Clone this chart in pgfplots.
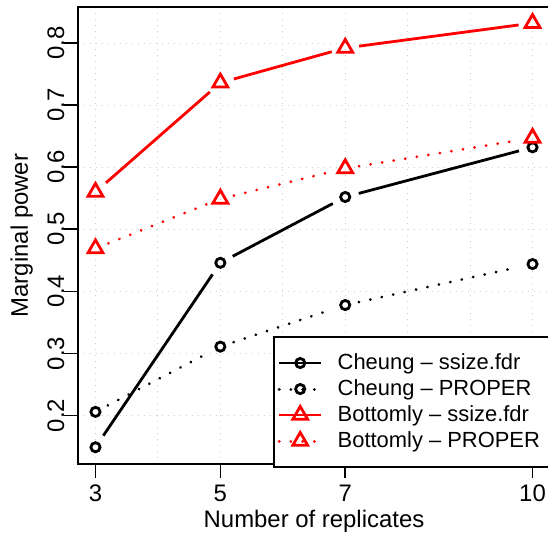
\documentclass[border=0pt]{standalone}
\usepackage{pgfplots}
\pgfplotsset{compat=1.18}
\usepackage{fontspec}
\setmainfont{Liberation Sans}
\definecolor{rred}{RGB}{255,0,0}
\definecolor{gridc}{RGB}{205,205,205}
\begin{document}
\begin{tikzpicture}
\begin{axis}[
  at={(39bp,37bp)}, anchor=south west,
  scale only axis, width=236bp, height=228.5bp,
  xmin=2.72, xmax=10.28, ymin=0.122, ymax=0.858,
  xtick={3,5,7,10}, ytick={0.2,0.3,0.4,0.5,0.6,0.7,0.8},
  minor xtick={4,6,8,9},
  tick pos=left, tick align=outside, major tick length=7bp, minor tick length=0pt,
  xmajorgrids, ymajorgrids, xminorgrids,
  grid style={gridc, dash pattern=on 0.7bp off 2.3bp, line width=0.5bp},
  minor grid style={gridc, dash pattern=on 0.7bp off 2.3bp, line width=0.5bp},
  axis line style={line width=0.8bp},
  tick style={line width=0.8bp, black},
  ticklabel style={font=\fontsize{12}{14}\selectfont},
  /pgf/number format/assume math mode=true,
  yticklabel={\pgfmathprintnumber[fixed,fixed zerofill,precision=1]{\tick}},
  yticklabel style={rotate=90, anchor=base, at={(axis description cs:-0.0805,0)}},
  every axis x label/.style={at={(axis description cs:0.5,-0.138)}, anchor=base, font=\fontsize{12}{14}\selectfont},
  every axis y label/.style={at={(axis description cs:-0.106,0.5)}, rotate=90, anchor=base, font=\fontsize{12}{14}\selectfont},
  xlabel={Number of replicates}, ylabel={Marginal power},
  legend image code/.code={\draw[mark repeat=2, mark phase=2, #1] plot coordinates {(0bp,0bp) (10.5bp,0bp) (21bp,0bp)};},
  legend cell align=left,
  legend style={at={(0.413,0.28)}, anchor=north west, draw=black, line width=0.8bp,
    fill=white, inner xsep=2bp, inner ysep=6.6bp, row sep=0pt,
    font=\fontsize{11}{13}\selectfont,
    nodes={inner sep=1bp, text height=8.5bp, text depth=2.5bp}},
]
% lines (with gaps around points, as in type="b")
\addplot[black, line width=1.4bp, shorten <=7bp, shorten >=7bp, forget plot] coordinates {(3,0.149) (5,0.446)};
\addplot[black, line width=1.4bp, shorten <=7bp, shorten >=7bp, forget plot] coordinates {(5,0.446) (7,0.552)};
\addplot[black, line width=1.4bp, shorten <=7bp, shorten >=7bp, forget plot] coordinates {(7,0.552) (10,0.632)};
\addplot[black, line width=1.5bp, line cap=round, dash pattern=on 0.01bp off 5.84bp, shorten <=7bp, shorten >=7bp, forget plot] coordinates {(3,0.206) (5,0.311)};
\addplot[black, line width=1.5bp, line cap=round, dash pattern=on 0.01bp off 5.84bp, shorten <=7bp, shorten >=7bp, forget plot] coordinates {(5,0.311) (7,0.378)};
\addplot[black, line width=1.5bp, line cap=round, dash pattern=on 0.01bp off 5.84bp, shorten <=7bp, shorten >=7bp, forget plot] coordinates {(7,0.378) (10,0.444)};
\addplot[rred, line width=1.4bp, shorten <=7bp, shorten >=7bp, forget plot] coordinates {(3,0.560) (5,0.736)};
\addplot[rred, line width=1.4bp, shorten <=7bp, shorten >=7bp, forget plot] coordinates {(5,0.736) (7,0.792)};
\addplot[rred, line width=1.4bp, shorten <=7bp, shorten >=7bp, forget plot] coordinates {(7,0.792) (10,0.832)};
\addplot[rred, line width=1.5bp, line cap=round, dash pattern=on 0.01bp off 5.84bp, shorten <=7bp, shorten >=7bp, forget plot] coordinates {(3,0.469) (5,0.549)};
\addplot[rred, line width=1.5bp, line cap=round, dash pattern=on 0.01bp off 5.84bp, shorten <=7bp, shorten >=7bp, forget plot] coordinates {(5,0.549) (7,0.598)};
\addplot[rred, line width=1.5bp, line cap=round, dash pattern=on 0.01bp off 5.84bp, shorten <=7bp, shorten >=7bp, forget plot] coordinates {(7,0.598) (10,0.647)};
% markers
\addplot[black, only marks, mark=o, mark size=2.3bp, mark options={line width=1.4bp, solid}, forget plot] coordinates {(3,0.149) (5,0.446) (7,0.552) (10,0.632)};
\addplot[black, only marks, mark=o, mark size=2.3bp, mark options={line width=1.4bp, solid}, forget plot] coordinates {(3,0.206) (5,0.311) (7,0.378) (10,0.444)};
\addplot[rred, only marks, mark=triangle, mark size=4.3bp, mark options={line width=1.4bp, solid}, forget plot] coordinates {(3,0.560) (5,0.736) (7,0.792) (10,0.832)};
\addplot[rred, only marks, mark=triangle, mark size=4.3bp, mark options={line width=1.4bp, solid}, forget plot] coordinates {(3,0.469) (5,0.549) (7,0.598) (10,0.647)};
% legend
\addlegendimage{black, line width=1.4bp, mark=o, mark size=2.3bp, mark options={solid}}
\addlegendentry{\makebox[118bp][l]{\hspace{6.5bp}Cheung – ssize.fdr}}
\addlegendimage{black, line width=1.5bp, line cap=round, dash pattern=on 0.01bp off 5.84bp, mark=o, mark size=2.3bp, mark options={solid, line width=1.4bp}}
\addlegendentry{\makebox[118bp][l]{\hspace{6.5bp}Cheung – PROPER}}
\addlegendimage{rred, line width=1.4bp, mark=triangle, mark size=4.3bp, mark options={solid}}
\addlegendentry{\makebox[118bp][l]{\hspace{6.5bp}Bottomly – ssize.fdr}}
\addlegendimage{rred, line width=1.5bp, line cap=round, dash pattern=on 0.01bp off 5.84bp, mark=triangle, mark size=4.3bp, mark options={solid, line width=1.4bp}}
\addlegendentry{\makebox[118bp][l]{\hspace{6.5bp}Bottomly – PROPER}}
\end{axis}
\pgfresetboundingbox
\path (0,0) rectangle (274bp,269bp);
\end{tikzpicture}
\end{document}
